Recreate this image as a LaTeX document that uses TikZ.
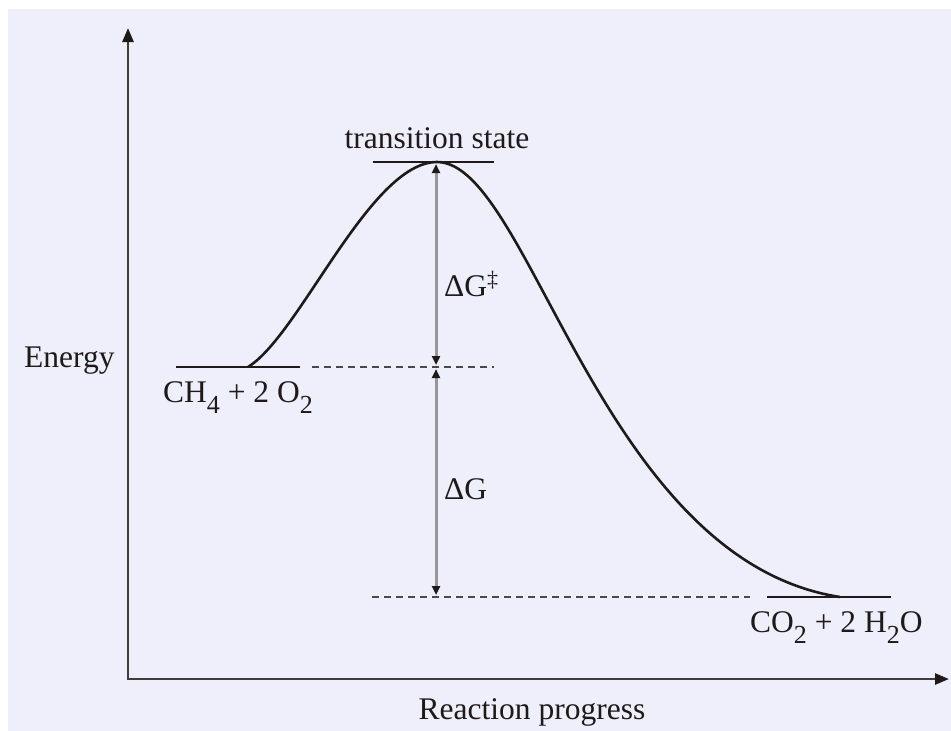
\documentclass[tikz,border=0pt]{standalone}
\usepackage{fontspec}
\setmainfont{Liberation Serif}
\usetikzlibrary{arrows.meta}
\definecolor{bg}{RGB}{239,239,252}
\definecolor{ink}{RGB}{30,26,26}
\definecolor{shaft}{RGB}{150,150,155}
\newcommand{\chemsub}[1]{\raisebox{-0.36em}{\fontsize{26}{30}\selectfont #1}}
\begin{document}
\begin{tikzpicture}[x=1pt,y=-1pt,
  lbl/.style={font=\fontsize{31.5}{36}\selectfont, text=ink, inner sep=0pt},
  axisline/.style={line width=2.6pt, draw=ink!85, line join=miter,
    {Triangle[length=14pt,width=11pt,color=ink]}-{Triangle[length=14pt,width=11pt,color=ink]}},
  levelline/.style={line width=2pt, draw=ink},
  dashline/.style={line width=1.6pt, draw=ink!80, dash pattern=on 7pt off 5pt},
  gaparrow/.style={line width=3pt, draw=shaft,
    {Triangle[length=9pt,width=8pt,color=ink]}-{Triangle[length=9pt,width=8pt,color=ink]}},
  profile/.style={line width=2.6pt, draw=ink}]
\useasboundingbox (0,0) rectangle (951,731);
\fill[white] (0,0) rectangle (951,731);
\fill[bg] (8,9) rectangle (951,731);

% axes
\coordinate (O) at (128,679);
\coordinate (ytip) at (128,28);
\coordinate (xtip) at (949,679);
\draw[axisline] (ytip) -- (O) -- (xtip);

% levels
\coordinate (tsL) at (373,162);
\coordinate (tsR) at (494,162);
\coordinate (ts) at (437,162);
\coordinate (rL) at (176,367);
\coordinate (rR) at (300,367);
\coordinate (r) at (248,367);
\coordinate (rdL) at (312,367);
\coordinate (rdR) at (494,367);
\coordinate (pL) at (767,597);
\coordinate (pR) at (891,597);
\coordinate (p) at (840,597);
\coordinate (pdL) at (372,597);
\coordinate (pdR) at (750,597);

\draw[levelline] (tsL) -- (tsR);
\draw[levelline] (rL) -- (rR);
\draw[levelline] (pL) -- (pR);
\draw[dashline] (rdL) -- (rdR);
\draw[dashline] (pdL) -- (pdR);

% energy profile
\draw[profile] (r) .. controls (300,335) and (370,162) .. (ts)
  .. controls (530,162) and (600,560) .. (p);

% gap arrows
\coordinate (a1) at (436,164);
\coordinate (a2) at (436,365);
\coordinate (a3) at (436,369);
\coordinate (a4) at (436,595);
\draw[gaparrow] (a1) -- (a2);
\draw[gaparrow] (a3) -- (a4);

% labels
\node[lbl, anchor=base] (tslbl) at (437,148) {transition state};
\node[lbl, anchor=base west] (rlbl) at (163,402) {CH\chemsub{4} + 2 O\chemsub{2}};
\node[lbl, anchor=base west] (plbl) at (750,632) {CO\chemsub{2} + 2 H\chemsub{2}O};
\node[lbl, anchor=base west] (ylbl) at (24,367) {Energy};
\node[lbl, anchor=base] (xlbl) at (532,719) {Reaction progress};
\node[lbl, anchor=base west] (dgts) at (444,296) {ΔG\textsuperscript{‡}};
\node[lbl, anchor=base west] (dg) at (444,499) {ΔG};
\end{tikzpicture}
\end{document}
